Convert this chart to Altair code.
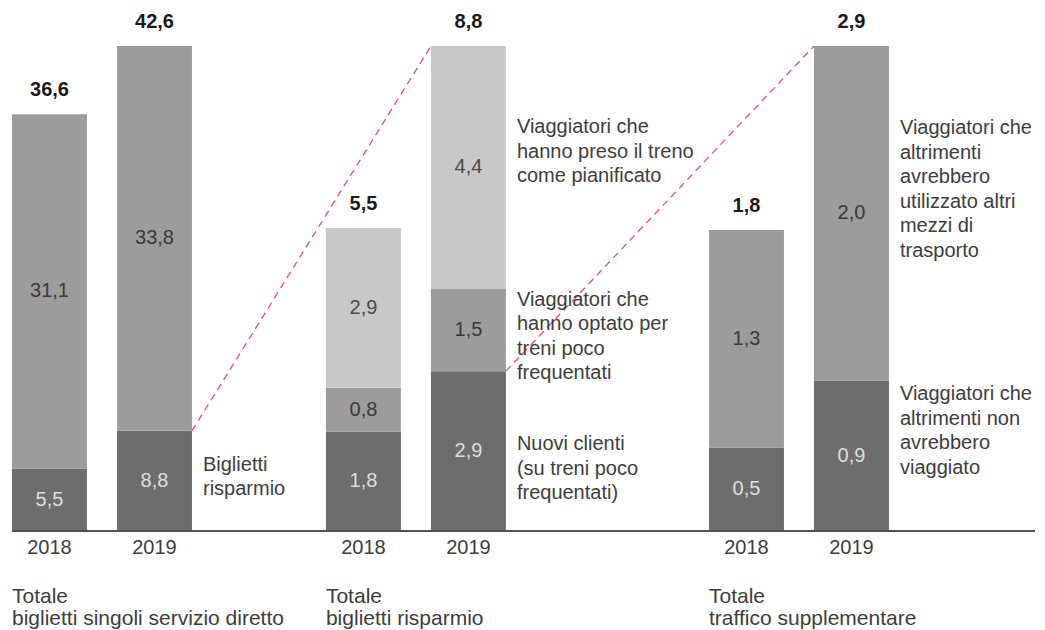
import altair as alt
import pandas as pd

# ---------------- data ----------------
PANEL_TITLES = [
    "Totale\nbiglietti singoli servizio diretto",
    "Totale\nbiglietti risparmio",
    "Totale\ntraffico supplementare",
]
YEARS = ["2018", "2019"]
# segment values per panel, bottom -> top
VALUES_2018 = [[5.5, 31.1], [1.8, 0.8, 2.9], [0.5, 1.3]]
VALUES_2019 = [[8.8, 33.8], [2.9, 1.5, 4.4], [0.9, 2.0]]
# annotations next to the 2019 bar: (text, segment level it refers to)
ANNOTATIONS = [
    [("Biglietti\nrisparmio", 0)],
    [
        ("Nuovi clienti\n(su treni poco\nfrequentati)", 0),
        ("Viaggiatori che\nhanno optato per\ntreni poco\nfrequentati", 1),
        ("Viaggiatori che\nhanno preso il treno\ncome pianificato", 2),
    ],
    [
        ("Viaggiatori che\naltrimenti non\navrebbero\nviaggiato", 0),
        ("Viaggiatori che\naltrimenti\navrebbero\nutilizzato altri\nmezzi di\ntrasporto", 1),
    ],
]
# dashed connectors: (source panel, source segment level) -> next panel's 2019 bar
CONNECTORS = [(0, 0), (1, 0)]

# ---------------- layout / style ----------------
PANEL_X0 = [0.0, 2.99, 6.638]   # panel start, in bar-step units
BAR_W = 0.714
X_MAX = 9.743
ANN_DY = [[24], [63, 1, 71], [4, 72]]
BAR_COLORS = ["#6d6d6d", "#9c9c9c", "#c8c8c8"]
LABEL_COLORS = ["#dedede", "#3a3a3a", "#4a4a4a"]
TEXT_DARK = "#3d3d3d"
FONT = "Liberation Sans"
FS = 20


def fmt(v):
    return f"{v:.1f}".replace(".", ",")


rows = []
for p in range(3):
    top_total = sum(VALUES_2019[p])
    for yi, (year, vals) in enumerate(zip(YEARS, [VALUES_2018[p], VALUES_2019[p]])):
        start = 0.0
        left = PANEL_X0[p] + yi
        for lvl, v in enumerate(vals):
            end = start + v
            rows.append(dict(
                panel=p, year=year, level=str(lvl), value=v,
                y=start / top_total, y2=end / top_total, ymid=(start + end) / 2 / top_total,
                x=left, x2=left + BAR_W, xc=left + BAR_W / 2, label=fmt(v),
            ))
            start = end
bars = pd.DataFrame(rows)

tot = bars.groupby(["panel", "year"]).agg(y=("y2", "max"), xc=("xc", "first"), value=("value", "sum")).reset_index()
tot["label"] = tot["value"].map(fmt)

years_df = bars.groupby(["panel", "year"]).agg(xc=("xc", "first")).reset_index()
years_df["y"] = 0.0

titles_df = pd.DataFrame({"x": PANEL_X0, "y": [0.0] * 3, "text": PANEL_TITLES})

conn_rows = []
for p, lvl in CONNECTORS:
    src = bars[(bars.panel == p) & (bars.year == "2019") & (bars.level == str(lvl))].iloc[0]
    tgt = bars[(bars.panel == p + 1) & (bars.year == "2019")]
    conn_rows.append(dict(x=src.x2, y=src.y2, x2=tgt.x.min(), y2=tgt.y2.max()))
conn = pd.DataFrame(conn_rows)

base_df = pd.DataFrame({"x": [0.0], "x2": [X_MAX], "y": [0.0]})

xs = alt.Scale(domain=[0, X_MAX], nice=False, zero=False)
ys = alt.Scale(domain=[0, 1], nice=False, zero=True)


def X(f):
    return alt.X(f"{f}:Q", scale=xs, axis=None)


def Y(f):
    return alt.Y(f"{f}:Q", scale=ys, axis=None)


layers = []

layers.append(
    alt.Chart(bars).mark_rect().encode(
        x=X("x"), x2="x2", y=Y("y"), y2="y2",
        color=alt.Color("level:N", scale=alt.Scale(domain=["0", "1", "2"], range=BAR_COLORS), legend=None),
    )
)

layers.append(
    alt.Chart(base_df).mark_rule(color="#505050", strokeWidth=2).encode(x=X("x"), x2="x2", y=Y("y"))
)

layers.append(
    alt.Chart(conn).mark_rule(color="#e2536c", strokeWidth=1.3, strokeDash=[7, 5]).encode(
        x=X("x"), x2="x2", y=Y("y"), y2="y2"
    )
)

layers.append(
    alt.Chart(bars).mark_text(font=FONT, fontSize=FS, baseline="middle", align="center").encode(
        x=X("xc"), y=Y("ymid"), text="label:N",
        color=alt.Color("level:N", scale=alt.Scale(domain=["0", "1", "2"], range=LABEL_COLORS), legend=None),
    )
)

layers.append(
    alt.Chart(tot).mark_text(font=FONT, fontSize=FS, fontWeight="bold", baseline="middle", align="center",
                             dy=-24, color="#1a1a1a").encode(x=X("xc"), y=Y("y"), text="label:N")
)

layers.append(
    alt.Chart(years_df).mark_text(font=FONT, fontSize=FS, baseline="middle", align="center",
                                  dy=17, color=TEXT_DARK).encode(x=X("xc"), y=Y("y"), text="year:N")
)

layers.append(
    alt.Chart(titles_df).mark_text(font=FONT, fontSize=21, baseline="top", align="left", lineBreak="\n",
                                   lineHeight=22, dy=55, color=TEXT_DARK).encode(x=X("x"), y=Y("y"), text="text:N")
)

for p in range(3):
    for (txt, lvl), dy in zip(ANNOTATIONS[p], ANN_DY[p]):
        seg = bars[(bars.panel == p) & (bars.year == "2019") & (bars.level == str(lvl))].iloc[0]
        adf = pd.DataFrame({"x": [seg.x2], "y": [seg.y2], "text": [txt]})
        layers.append(
            alt.Chart(adf).mark_text(font=FONT, fontSize=FS, baseline="top", align="left", lineBreak="\n",
                                     lineHeight=24.5, dx=11, dy=dy, color=TEXT_DARK).encode(
                x=X("x"), y=Y("y"), text="text:N")
        )

chart = alt.layer(*layers).resolve_scale(color="independent").properties(
    width=1023, height=485,
    autosize=alt.AutoSizeParams(type="none"),
    padding={"left": 4, "top": 38, "right": 2, "bottom": 99},
    background="white",
).configure_view(stroke=None)

chart.save("out.html", embed_options={"renderer": "svg", "actions": False})
